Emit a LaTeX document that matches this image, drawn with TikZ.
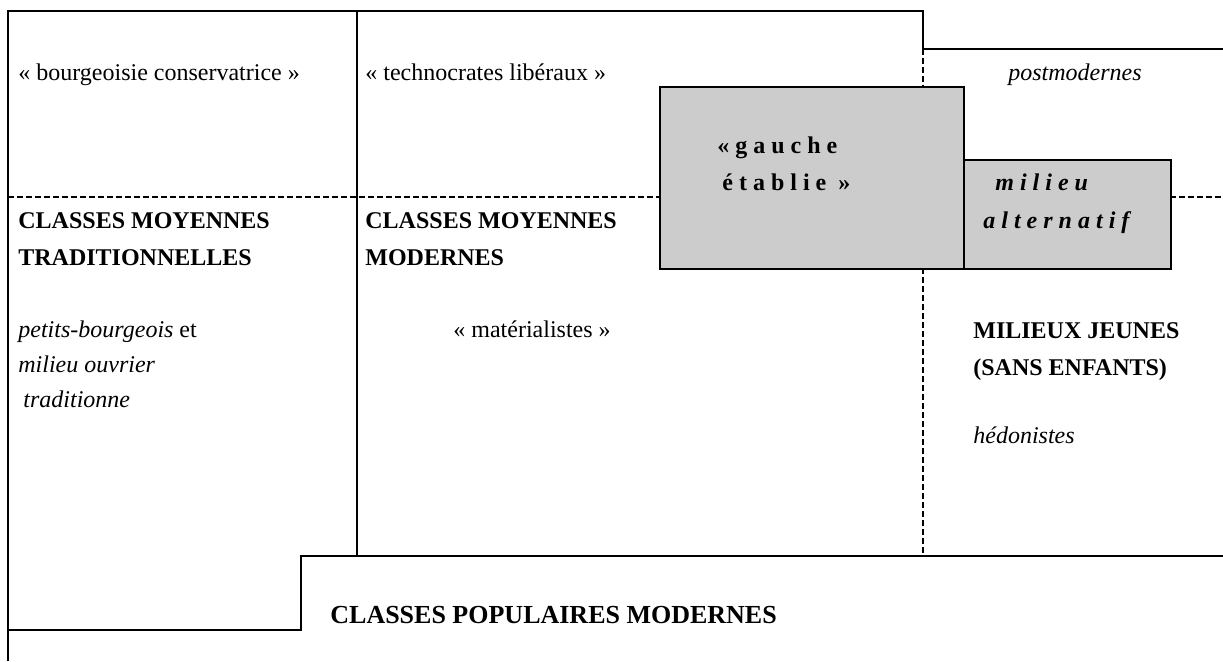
\documentclass[tikz,border=0pt]{standalone}
\usepackage{fontspec}
\setmainfont{Liberation Serif}
\newfontfamily\spacedfont[LetterSpace=25]{Liberation Serif}
\usetikzlibrary{positioning}
\definecolor{milieugray}{gray}{0.8}
\tikzset{
  lbl/.style={anchor=base west,inner sep=0pt,font=\fontsize{12}{14}\selectfont},
  biglbl/.style={anchor=base west,inner sep=0pt,font=\fontsize{13}{15}\selectfont\bfseries},
  solidline/.style={line width=1pt},
  dashline/.style={line width=1pt,dash pattern=on 2.75pt off 1.75pt},
  milieubox/.style={anchor=north west,draw,line width=1pt,fill=milieugray,shape=rectangle,inner sep=0pt}
}

\begin{document}
\begin{tikzpicture}[x=0.5pt,y=-0.5pt]
\useasboundingbox (0,0) rectangle (1223,661);

% frame
\draw[solidline] (8,661) -- (8,11) -- (923,11) -- (923,49) -- (1223,49);
\draw[solidline] (357,11) -- (357,556);
\draw[solidline] (1223,556) -- (301,556) -- (301,630) -- (8,630);
\draw[dashline] (8,197) -- (659,197);
\draw[dashline] (1170,197) -- (1223,197);
\draw[dashline] (923,49) -- (923,86);
\draw[dashline] (923,268) -- (923,556);

% grey boxes
\node[milieubox,minimum width=152pt,minimum height=91pt] (gauchebox) at (659,86) {};
\node[milieubox,minimum width=103.5pt,minimum height=54.5pt] (altbox) at (963,159) {};

% top row
\node[lbl] (bourg) at (18,80) {« bourgeoisie conservatrice »};
\node[lbl] (techno) at (365,80) {« technocrates libéraux »};
\node[lbl] (postmod) at (1008,80) {\itshape postmodernes};

\node[lbl] (gauche1) at (717,153) {\spacedfont\bfseries «gauche};
\node[lbl] (gauche2) at (722,190) {\spacedfont\bfseries établie »};
\node[lbl] (milieu1) at (995,190) {\spacedfont\bfseries\itshape milieu};
\node[lbl] (milieu2) at (983,228) {\spacedfont\bfseries\itshape alternatif};

% middle row
\node[lbl] (cmt1) at (18,228) {\bfseries CLASSES MOYENNES};
\node[lbl] (cmt2) at (18,265) {\bfseries TRADITIONNELLES};
\node[lbl] (petits) at (18,337) {\textit{petits-bourgeois} et};
\node[lbl] (ouvrier) at (18,372) {\itshape milieu ouvrier};
\node[lbl] (tradi) at (23,407) {\itshape traditionne};

\node[lbl] (cmm1) at (365,228) {\bfseries CLASSES MOYENNES};
\node[lbl] (cmm2) at (365,265) {\bfseries MODERNES};
\node[lbl] (mater) at (453,337) {« matérialistes »};

\node[lbl] (jeunes1) at (973,338) {\bfseries MILIEUX JEUNES};
\node[lbl] (jeunes2) at (973,375) {\bfseries (SANS ENFANTS)};
\node[lbl] (hedon) at (973,443) {\itshape hédonistes};

% bottom
\node[biglbl] (popmod) at (330,623) {CLASSES POPULAIRES MODERNES};

\end{tikzpicture}
\end{document}
